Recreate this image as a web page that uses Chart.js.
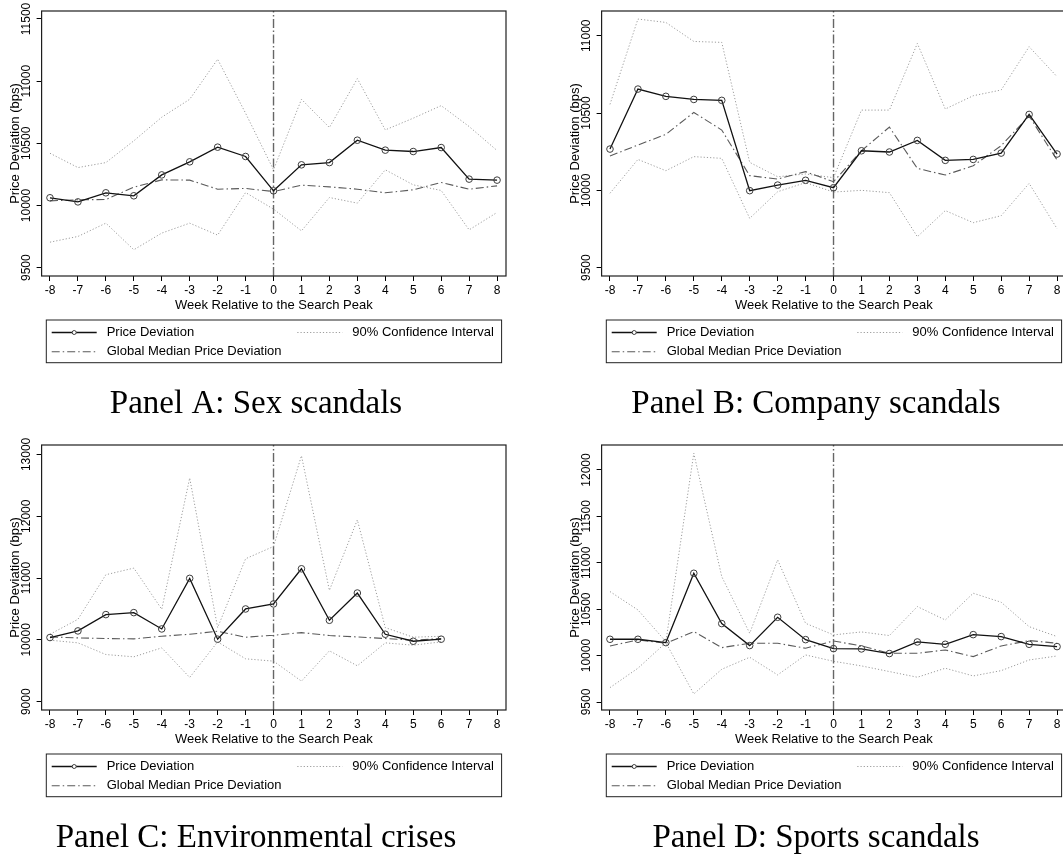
<!DOCTYPE html>
<html>
<head>
<meta charset="utf-8">
<script src="https://cdn.jsdelivr.net/npm/chart.js@4.4.1/dist/chart.umd.min.js"></script>
<style>
  html, body { margin: 0; padding: 0; background: #fff; width: 1063px; height: 861px; overflow: hidden; }
  .panel { position: absolute; width: 531px; height: 427px; }
  canvas { display: block; }
</style>
</head>
<body>
<div class="panel" style="left:0px;top:0px"><canvas id="panelA" width="531" height="427"></canvas></div>
<div class="panel" style="left:560px;top:0px"><canvas id="panelB" width="531" height="427"></canvas></div>
<div class="panel" style="left:0px;top:434px"><canvas id="panelC" width="531" height="427"></canvas></div>
<div class="panel" style="left:560px;top:434px"><canvas id="panelD" width="531" height="427"></canvas></div>
<script>
// Event window: weeks relative to the search peak
const weeks = [-8, -7, -6, -5, -4, -3, -2, -1, 0, 1, 2, 3, 4, 5, 6, 7, 8];

// Panel A: Sex scandals (bps)
const priceA  = [10062, 10029, 10102, 10078, 10246, 10351, 10469, 10394, 10118, 10327, 10345, 10525, 10445, 10434, 10466, 10212, 10204];
const medianA = [10037, 10046, 10048, 10147, 10206, 10204, 10131, 10137, 10112, 10163, 10150, 10131, 10102, 10126, 10185, 10131, 10158];
const ciHighA = [10420, 10305, 10345, 10520, 10710, 10854, 11176, 10742, 10287, 10854, 10627, 11020, 10608, 10702, 10803, 10635, 10442];
const ciLowA  = [9705, 9751, 9858, 9644, 9778, 9858, 9762, 10104, 9971, 9796, 10064, 10019, 10287, 10166, 10121, 9804, 9944];
const yTicksA = [9500, 10000, 10500, 11000, 11500];

// Panel B: Company scandals (bps)
const priceB  = [10267, 10655, 10608, 10588, 10582, 9998, 10034, 10065, 10017, 10256, 10248, 10323, 10194, 10200, 10241, 10491, 10235];
const medianB = [10222, 10293, 10362, 10504, 10390, 10095, 10073, 10121, 10056, 10256, 10409, 10142, 10099, 10159, 10289, 10481, 10196];
const ciHighB = [10556, 11108, 11086, 10963, 10957, 10181, 10088, 10106, 10082, 10519, 10519, 10950, 10526, 10612, 10649, 10929, 10735];
const ciLowB  = [9981, 10200, 10127, 10218, 10207, 9819, 9991, 10050, 9989, 10000, 9985, 9700, 9869, 9791, 9836, 10045, 9752];
const yTicksB = [9500, 10000, 10500, 11000];

// Panel C: Environmental crises (bps), observed up to week 6
const priceC  = [10038, 10145, 10409, 10441, 10177, 10995, 10011, 10500, 10581, 11150, 10317, 10758, 10091, 9978, 10011];
const medianC = [10048, 10032, 10022, 10016, 10059, 10091, 10140, 10043, 10075, 10118, 10070, 10048, 10022, 9995, 10022];
const ciHighC = [10091, 10333, 11054, 11161, 10495, 12618, 10199, 11312, 11511, 12978, 10801, 11941, 10199, 10043, 10059];
const ciLowC  = [9995, 9952, 9763, 9726, 9871, 9392, 9968, 9694, 9656, 9333, 9823, 9581, 9952, 9914, 9968];
const yTicksC = [9000, 10000, 11000, 12000, 13000];

// Panel D: Sports scandals (bps)
const priceD  = [10176, 10176, 10140, 10887, 10345, 10108, 10413, 10172, 10075, 10072, 10022, 10147, 10122, 10226, 10205, 10122, 10097];
const medianD = [10104, 10169, 10133, 10259, 10086, 10133, 10133, 10079, 10158, 10104, 10025, 10025, 10061, 9989, 10104, 10162, 10133];
const ciHighD = [10690, 10492, 10151, 12180, 10851, 10241, 11031, 10348, 10223, 10255, 10216, 10528, 10384, 10672, 10575, 10312, 10205];
const ciLowD  = [9655, 9864, 10140, 9587, 9853, 9982, 9792, 10007, 9939, 9889, 9828, 9767, 9864, 9781, 9838, 9953, 9996];
const yTicksD = [9500, 10000, 10500, 11000, 11500, 12000];

const seriesLabels = ['Price Deviation', 'Global Median Price Deviation', '90% Confidence Interval'];
const xTitle = 'Week Relative to the Search Peak';
const yTitle = 'Price Deviation (bps)';

Chart.defaults.font.family = '"Liberation Sans", Arial, Helvetica, sans-serif';
Chart.defaults.color = '#000';

const pair = vals => vals.map((v, i) => ({ x: weeks[i], y: v }));

// Plot-region outline and the boxed two-column key under the axis title
const frameAndKey = {
  id: 'frameAndKey',
  afterDraw(chart) {
    const { ctx, chartArea: a } = chart;
    const ds = chart.data.datasets;
    ctx.save();
    ctx.strokeStyle = '#1e1e1e';
    ctx.lineWidth = 1.2;
    ctx.strokeRect(a.left, a.top, a.right - a.left, a.bottom - a.top);

    const bx = a.left + 4.7, by = a.bottom + 44, bw = 455.3, bh = 42.7;
    ctx.lineWidth = 1;
    ctx.strokeStyle = '#222';
    ctx.strokeRect(bx, by, bw, bh);

    const items = [
      { d: ds[0], x: bx + 5.4, y: by + 12.5, marker: true },
      { d: ds[2], x: bx + 251, y: by + 12.5 },
      { d: ds[1], x: bx + 5.4, y: by + 31.7 }
    ];
    ctx.font = '13px "Liberation Sans", Arial, sans-serif';
    ctx.textBaseline = 'middle';
    ctx.textAlign = 'left';
    for (const it of items) {
      ctx.save();
      ctx.strokeStyle = it.d.borderColor;
      ctx.lineWidth = it.d.borderWidth;
      ctx.setLineDash(it.d.borderDash || []);
      ctx.beginPath();
      ctx.moveTo(it.x, it.y);
      ctx.lineTo(it.x + 45, it.y);
      ctx.stroke();
      ctx.restore();
      if (it.marker) {
        ctx.beginPath();
        ctx.arc(it.x + 22.5, it.y, 2, 0, Math.PI * 2);
        ctx.fillStyle = '#fff';
        ctx.fill();
        ctx.strokeStyle = it.d.pointBorderColor;
        ctx.lineWidth = 1;
        ctx.stroke();
      }
      ctx.fillStyle = '#000';
      ctx.fillText(it.d.label, it.x + 55, it.y);
    }
    ctx.restore();
  }
};

function makePanel(id, caption, price, median, ciHigh, ciLow, yMin, yMax, yTicks) {
  new Chart(document.getElementById(id), {
    type: 'line',
    data: {
      datasets: [
        {
          label: seriesLabels[0], data: pair(price),
          borderColor: '#111', borderWidth: 1.3, tension: 0,
          pointRadius: 3.3, pointBorderWidth: 1, pointBorderColor: '#3c3c3c',
          pointBackgroundColor: 'rgba(0,0,0,0)'
        },
        {
          label: seriesLabels[1], data: pair(median),
          borderColor: '#5a5a5a', borderWidth: 1.1, borderDash: [8, 3, 1.5, 3],
          pointRadius: 0, tension: 0
        },
        {
          label: seriesLabels[2], data: pair(ciHigh),
          borderColor: '#9c9c9c', borderWidth: 1, borderDash: [1.2, 2],
          pointRadius: 0, tension: 0
        },
        {
          label: seriesLabels[2], data: pair(ciLow),
          borderColor: '#9c9c9c', borderWidth: 1, borderDash: [1.2, 2],
          pointRadius: 0, tension: 0
        },
        {
          label: 'peak', data: [{ x: 0, y: yMin }, { x: 0, y: yMax }],
          borderColor: '#666', borderWidth: 1.4, borderDash: [9, 2.5, 1.5, 2.5],
          pointRadius: 0
        }
      ]
    },
    options: {
      responsive: false,
      animation: false,
      events: [],
      layout: { padding: { left: 6, top: 11, right: 25, bottom: 0 } },
      plugins: {
        legend: { display: false },
        tooltip: { enabled: false },
        title: {
          display: true, text: caption, position: 'bottom', color: '#000',
          font: { family: '"Liberation Serif", "Times New Roman", serif', size: 33, weight: 'normal', lineHeight: 1.2 },
          padding: { top: 71.2, bottom: 3.2 }
        }
      },
      scales: {
        x: {
          type: 'linear', min: -8.3, max: 8.32,
          afterFit: s => { s.height = 37; },
          afterBuildTicks: s => { s.ticks = weeks.map(v => ({ value: v })); },
          border: { display: false },
          grid: { drawOnChartArea: false, drawTicks: true, tickLength: 5, tickColor: '#000', lineWidth: 1 },
          ticks: { font: { size: 12 }, color: '#000', padding: 2.5, maxRotation: 0, minRotation: 0, callback: v => String(v) },
          title: { display: true, text: xTitle, font: { size: 13 }, color: '#000', padding: { top: 0, bottom: 0 } }
        },
        y: {
          min: yMin, max: yMax,
          afterFit: s => { s.width = 35.6; },
          afterBuildTicks: s => { s.ticks = yTicks.map(v => ({ value: v })); },
          border: { display: false },
          grid: { drawOnChartArea: false, drawTicks: true, tickLength: 5, tickColor: '#000', lineWidth: 1 },
          ticks: { font: { size: 12 }, color: '#000', minRotation: 90, maxRotation: 90, crossAlign: 'center', padding: -7.1, callback: v => String(v) },
          title: { display: true, text: yTitle, font: { size: 13 }, color: '#000', padding: { top: 1.4, bottom: 0 } }
        }
      }
    },
    plugins: [frameAndKey]
  });
}

makePanel('panelA', 'Panel A: Sex scandals', priceA, medianA, ciHighA, ciLowA, 9433, 11564, yTicksA);
makePanel('panelB', 'Panel B: Company scandals', priceB, medianB, ciHighB, ciLowB, 9446, 11160, yTicksB);
makePanel('panelC', 'Panel C: Environmental crises', priceC, medianC, ciHighC, ciLowC, 8866, 13152, yTicksC);
makePanel('panelD', 'Panel D: Sports scandals', priceD, medianD, ciHighD, ciLowD, 9414, 12269, yTicksD);
</script>
</body>
</html>
